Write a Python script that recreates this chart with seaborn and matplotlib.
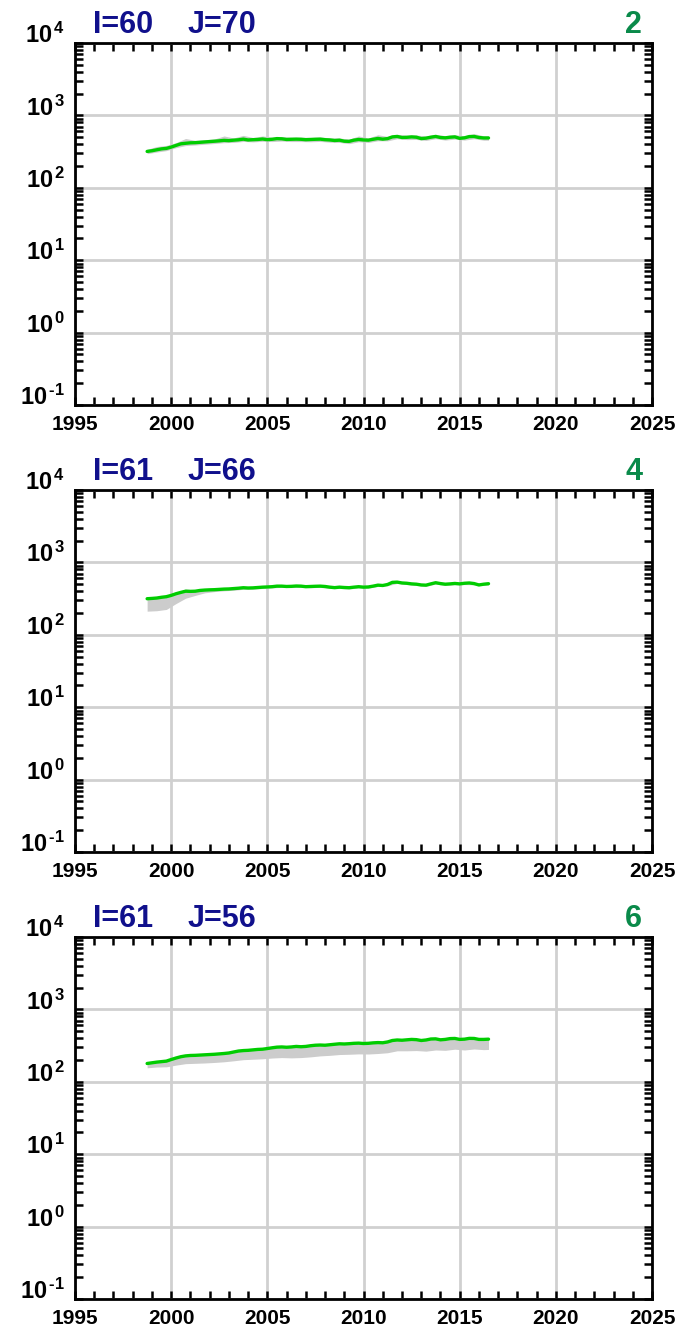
import numpy as np
import pandas as pd
import matplotlib
matplotlib.use("Agg")
import matplotlib.pyplot as plt
import matplotlib.ticker as mticker
import seaborn as sns

# ---------------- data ----------------
years_q = [1998.75 + 0.25 * i for i in range(72)]            # quarterly time axis
years_h = [1998.75 + 0.5 * i for i in range(36)] + [2016.5]  # half-year axis for spread band

titles_left = ["I=60", "I=61", "I=61"]
titles_mid = ["J=70", "J=66", "J=56"]
panel_ids = ["2", "4", "6"]

p1_line = [318, 325, 335, 345, 350, 365, 385, 405, 412, 418, 420, 425,
           430, 435, 440, 445, 452, 448, 455, 460, 470, 458, 462, 465,
           472, 462, 468, 478, 475, 465, 468, 470, 468, 462, 465, 468,
           470, 462, 458, 450, 455, 440, 438, 455, 465, 458, 455, 468,
           480, 470, 478, 505, 512, 495, 498, 505, 500, 478, 485, 500,
           512, 495, 490, 500, 505, 482, 490, 510, 512, 495, 488, 488]
p1_low = [296, 312, 326, 358, 383, 390, 400, 409, 420, 423, 437, 430,
          439, 435, 442, 435, 435, 432, 437, 426, 423, 407, 432, 423,
          446, 445, 476, 463, 465, 451, 476, 456, 470, 456, 476, 454, 454]
p1_high = [340, 372, 385, 420, 480, 452, 462, 472, 520, 488, 530, 495,
           520, 500, 510, 500, 500, 497, 503, 490, 487, 470, 520, 488,
           540, 512, 548, 533, 535, 520, 548, 525, 540, 525, 560, 522, 522]

p2_line = [315, 318, 322, 330, 336, 350, 369, 385, 400, 398, 400, 410,
           415, 418, 420, 424, 428, 430, 435, 440, 447, 443, 445, 450,
           455, 458, 462, 470, 470, 465, 467, 472, 470, 462, 465, 468,
           470, 465, 455, 448, 455, 450, 447, 455, 462, 455, 458, 470,
           485, 480, 495, 530, 534, 520, 515, 505, 500, 488, 485, 505,
           524, 510, 500, 505, 512, 505, 515, 520, 510, 488, 500, 508]
p2_low = [212, 215, 224, 270, 320, 350, 380, 395, 405, 412, 425, 425,
          437, 445, 452, 449, 452, 447, 452, 437, 437, 430, 444, 440,
          466, 476, 513, 494, 480, 466, 503, 480, 492, 494, 490, 480, 488]
p2_high = [325, 332, 346, 380, 430, 412, 427, 433, 441, 448, 462, 458,
           469, 485, 485, 481, 484, 479, 484, 468, 468, 461, 476, 472,
           500, 510, 550, 530, 515, 500, 540, 515, 527, 530, 525, 515, 523]

p3_line = [179, 183, 187, 190, 193, 203, 213, 222, 228, 231, 232, 234,
           236, 238, 240, 243, 246, 250, 258, 266, 270, 272, 276, 280,
           282, 288, 295, 301, 303, 300, 303, 308, 305, 308, 315, 320,
           322, 320, 325, 330, 335, 333, 336, 340, 342, 338, 340, 345,
           348, 346, 355, 372, 378, 375, 380, 385, 382, 372, 378, 390,
           392, 380, 385, 395, 397, 385, 388, 398, 397, 385, 385, 388]
p3_low = [156, 160, 161, 170, 178, 180, 182, 185, 189, 195, 202, 205,
          208, 213, 216, 214, 216, 221, 228, 232, 238, 240, 243, 242,
          246, 252, 268, 268, 270, 265, 275, 272, 282, 275, 284, 278, 280]
p3_high = [183, 192, 198, 218, 234, 238, 242, 246, 252, 265, 278, 285,
           290, 303, 312, 312, 315, 323, 332, 335, 345, 347, 352, 350,
           358, 365, 390, 392, 393, 390, 404, 396, 410, 400, 410, 397, 400]

lines = [p1_line, p2_line, p3_line]
lows = [p1_low, p2_low, p3_low]
highs = [p1_high, p2_high, p3_high]

x_ticks = [1995, 2000, 2005, 2010, 2015, 2020, 2025]

# ---------------- style ----------------
sns.set_style("white")
plt.rcParams["font.family"] = ["Liberation Sans", "DejaVu Sans"]
plt.rcParams["font.weight"] = "bold"
plt.rcParams["text.color"] = "black"
plt.rcParams["mathtext.fontset"] = "custom"
plt.rcParams["mathtext.rm"] = "Liberation Sans:bold"
plt.rcParams["mathtext.bf"] = "Liberation Sans:bold"
plt.rcParams["mathtext.it"] = "Liberation Sans:bold"

NAVY = "#10108c"
TEAL = "#0a8a4a"
GREEN = "#00cc00"
GREY = "#cccccc"
GRID = "#d0d0d0"

fig = plt.figure(figsize=(7.0, 13.33), dpi=100)
W = 700.0
H = 1333.0
left_px, right_px = 75, 652
tops = [43, 490, 937]
h_px = 362

def log_fmt(v, pos):
    e = int(round(np.log10(v)))
    es = ("\u2010%d" % (-e)) if e < 0 else ("%d" % e)
    return "$\\mathbf{10^{\\,%s}}$" % es

for k in range(3):
    top = tops[k]
    ax = fig.add_axes([left_px / W, 1 - (top + h_px) / H,
                       (right_px - left_px) / W, h_px / H])
    ax.set_yscale("log")
    ax.set_xlim(1995, 2025)
    ax.set_ylim(0.1, 1e4)

    ax.fill_between(years_h, lows[k], highs[k], color=GREY, lw=0, zorder=2)
    df = pd.DataFrame({"year": years_q, "value": lines[k]})
    sns.lineplot(data=df, x="year", y="value", ax=ax, color=GREEN,
                 lw=2.4, zorder=3)

    ax.set_xlabel("")
    ax.set_ylabel("")
    ax.set_xticks(x_ticks)
    ax.xaxis.set_minor_locator(mticker.MultipleLocator(1))
    ax.yaxis.set_major_locator(mticker.LogLocator(base=10, numticks=10))
    ax.yaxis.set_minor_locator(mticker.LogLocator(base=10, subs=np.arange(2, 10), numticks=20))
    ax.yaxis.set_minor_formatter(mticker.NullFormatter())
    ax.yaxis.set_major_formatter(mticker.FuncFormatter(log_fmt))
    ax.xaxis.set_major_formatter(mticker.FuncFormatter(lambda v, p: "%d" % v))

    ax.grid(True, which="major", color=GRID, lw=2.0, zorder=0)
    ax.set_axisbelow(True)

    ax.tick_params(which="both", direction="in", top=True, right=True,
                   bottom=True, left=True, width=1.8, color="black",
                   labelcolor="black")
    ax.tick_params(which="major", length=6)
    ax.tick_params(which="minor", length=5.5)
    ax.tick_params(axis="x", which="major", labelsize=15, pad=7)
    ax.tick_params(axis="y", which="major", labelsize=17, pad=7)
    for lab in ax.get_xticklabels():
        lab.set_fontweight("bold")
    for lab in ax.get_yticklabels():
        lab.set_verticalalignment("baseline")
    for sp in ax.spines.values():
        sp.set_visible(True)
        sp.set_color("black")
        sp.set_linewidth(2.0)

    ax.text((93 - left_px) / (right_px - left_px), 1 + 10 / h_px, titles_left[k],
            transform=ax.transAxes, ha="left", va="baseline",
            fontsize=22, fontweight="bold", color=NAVY)
    ax.text((188 - left_px) / (right_px - left_px), 1 + 10 / h_px, titles_mid[k],
            transform=ax.transAxes, ha="left", va="baseline",
            fontsize=22, fontweight="bold", color=NAVY)
    ax.text((642 - left_px) / (right_px - left_px), 1 + 10 / h_px, panel_ids[k],
            transform=ax.transAxes, ha="right", va="baseline",
            fontsize=22, fontweight="bold", color=TEAL)

fig.savefig("out.png", dpi=100)
